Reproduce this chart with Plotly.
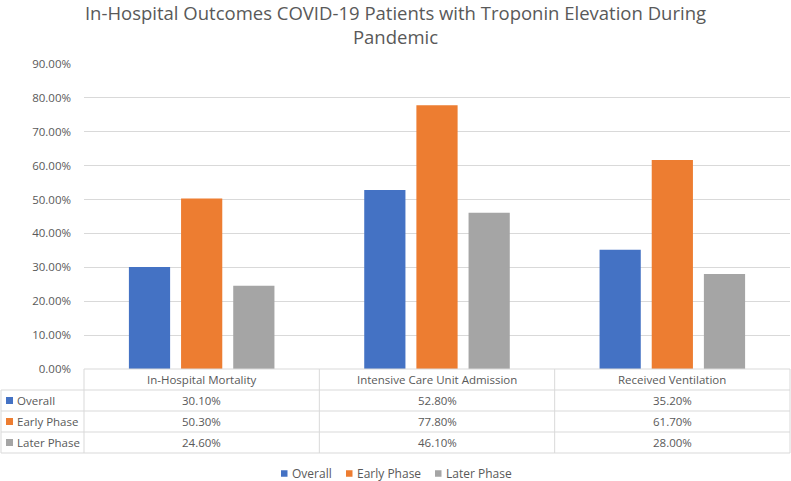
import plotly.graph_objects as go

categories = ["In-Hospital Mortality", "Intensive Care Unit Admission", "Received Ventilation"]
series_names = ["Overall", "Early Phase", "Later Phase"]
overall = [30.10, 52.80, 35.20]
early_phase = [50.30, 77.80, 61.70]
later_phase = [24.60, 46.10, 28.00]
y_ticks = [0, 10, 20, 30, 40, 50, 60, 70, 80, 90]
colors = ["#4472C4", "#ED7D31", "#A5A5A5"]
series_values = [overall, early_phase, later_phase]

FONT = "Open Sans"
TXT = "#595959"
GRID = "#D9D9D9"
FS = 11.5

W, H = 791, 481
ML, MR, MT, MB = 84, 1, 64, 112
PW = W - ML - MR
PH = H - MT - MB

def py(p):  # pixel y -> paper y
    return (H - MB - p) / PH

def px(p):  # pixel x -> paper x
    return (p - ML) / PW

fig = go.Figure()
for name, vals, c in zip(series_names, series_values, colors):
    fig.add_trace(go.Bar(x=categories, y=vals, name=name, showlegend=False,
                         marker=dict(color=c, line=dict(width=0))))

shapes = []
annotations = []
row_tops = [369, 390, 411, 432, 453]
xl = px(1)
for i, r in enumerate(row_tops):
    x0 = 0 if i == 0 else xl
    shapes.append(dict(type="line", xref="paper", yref="paper", x0=x0, x1=1, y0=py(r), y1=py(r),
                       line=dict(color=GRID, width=1)))
for k in range(4):
    shapes.append(dict(type="line", xref="paper", yref="paper", x0=k / 3, x1=k / 3, y0=py(369), y1=py(453),
                       line=dict(color=GRID, width=1)))
shapes.append(dict(type="line", xref="paper", yref="paper", x0=xl, x1=xl, y0=py(390), y1=py(453),
                   line=dict(color=GRID, width=1)))

for k, cat in enumerate(categories):
    annotations.append(dict(text=cat, xref="paper", yref="paper", x=(k + 0.5) / 3, y=py(379.5),
                            showarrow=False, font=dict(family=FONT, size=FS, color=TXT),
                            xanchor="center", yanchor="middle"))
for j, (name, vals, c) in enumerate(zip(series_names, series_values, colors)):
    yc = py((row_tops[j + 1] + row_tops[j + 2]) / 2)
    shapes.append(dict(type="rect", xref="paper", yref="paper", x0=px(6), x1=px(13),
                       y0=yc - 3.5 / PH, y1=yc + 3.5 / PH, fillcolor=c, line=dict(width=0)))
    annotations.append(dict(text=name, xref="paper", yref="paper", x=px(15), y=yc, showarrow=False,
                            font=dict(family=FONT, size=FS, color=TXT), xanchor="left", yanchor="middle"))
    for k, v in enumerate(vals):
        annotations.append(dict(text=f"{v:.2f}%", xref="paper", yref="paper", x=(k + 0.5) / 3, y=yc,
                                showarrow=False, font=dict(family=FONT, size=FS, color=TXT),
                                xanchor="center", yanchor="middle"))

# bottom legend (manual)
leg_sq = [281, 346, 435]
leg_y = py(473.5)
for name, c, x in zip(series_names, colors, leg_sq):
    shapes.append(dict(type="rect", xref="paper", yref="paper", x0=px(x), x1=px(x + 6.5),
                       y0=leg_y - 3.25 / PH, y1=leg_y + 3.25 / PH, fillcolor=c, line=dict(width=0)))
    annotations.append(dict(text=name, xref="paper", yref="paper", x=px(x + 8.5), y=leg_y, showarrow=False,
                            font=dict(family=FONT, size=FS + 0.5, color=TXT), xanchor="left", yanchor="middle"))

fig.update_layout(
    width=W, height=H,
    margin=dict(l=ML, r=MR, t=MT, b=MB, autoexpand=False),
    paper_bgcolor="white", plot_bgcolor="white",
    barmode="group", bargap=0.335, bargroupgap=0.21,
    showlegend=False,
    title=dict(text="In-Hospital Outcomes COVID-19 Patients with Troponin Elevation During<br>Pandemic",
               x=0.5, xref="container", xanchor="center", y=1 - 20 / H, yref="container", yanchor="middle",
               font=dict(family=FONT, size=18.5, color=TXT)),
    font=dict(family=FONT, color=TXT, size=FS),
    xaxis=dict(showticklabels=False, showgrid=False, zeroline=False, showline=False, ticks=""),
    yaxis=dict(range=[0, 90], tickvals=y_ticks, ticktext=[f"{t:.2f}%" for t in y_ticks],
               showgrid=True, gridcolor=GRID, gridwidth=1, zeroline=False, showline=False,
               ticklabelstandoff=12, tickfont=dict(family=FONT, size=FS, color=TXT)),
    shapes=shapes, annotations=annotations,
)

fig.write_html("out.html", config={"displayModeBar": False},
               post_script="document.body.style.margin='0';document.body.style.padding='0';")
